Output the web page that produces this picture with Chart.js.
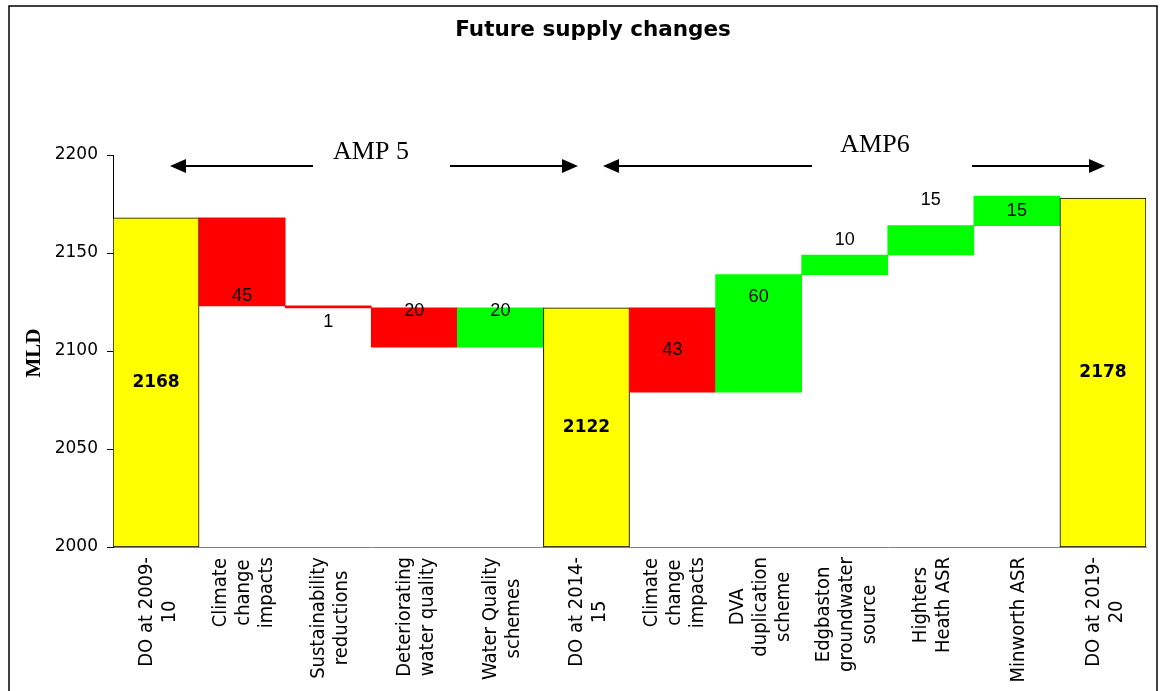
<!DOCTYPE html>
<html>
<head>
<meta charset="utf-8">
<script src="https://cdn.jsdelivr.net/npm/chart.js@4.4.0/dist/chart.umd.min.js"></script>
<style>
html, body { margin: 0; padding: 0; background: #fff; }
</style>
</head>
<body>
<canvas id="supply" width="1168" height="691"></canvas>
<script>
// categories (one array of lines per label)
const categories = [
    ["DO at 2009-", "10"],
    ["Climate", "change", "impacts"],
    ["Sustainability", "reductions"],
    ["Deteriorating", "water quality"],
    ["Water Quality", "schemes"],
    ["DO at 2014-", "15"],
    ["Climate", "change", "impacts"],
    ["DVA", "duplication", "scheme"],
    ["Edgbaston", "groundwater", "source"],
    ["Highters", "Heath ASR"],
    ["Minworth ASR"],
    ["DO at 2019-", "20"]
];

// bottom and top of each floating bar (MLD)
const lows  = [2000, 2123, 2122, 2102, 2102, 2000, 2079, 2079, 2139, 2149, 2164, 2000];
const highs = [2168, 2168, 2123, 2122, 2122, 2122, 2122, 2139, 2149, 2164, 2179, 2178];

// printed value on each bar
const valueLabels = ["2168", "45", "1", "20", "20", "2122", "43", "60", "10", "15", "15", "2178"];

const yTicks = [2000, 2050, 2100, 2150, 2200];

const barColors = ["#FFFF00", "#FF0000", "#FF0000", "#FF0000", "#00FF00", "#FFFF00",
                   "#FF0000", "#00FF00", "#00FF00", "#00FF00", "#00FF00", "#FFFF00"];
const borderWidths = [1, 0, 0, 0, 0, 1, 0, 0, 0, 0, 0, 1];

// where the value label sits: anchor on the bar + pixel shift
const labelAnchor = ["mid", "bottom", "bottom", "top", "top", "mid", "mid", "top", "top", "top", "mid", "mid"];
const labelShift  = [0, -10, 14, 3, 3, 0, 0, 22, -15, -26, 0, 0];
const labelBold   = [true, false, false, false, false, true, false, false, false, false, false, true];

function drawArrow(ctx, x1, x2, y){
    // line from x1 to x2, head at x2
    const dir = x2 > x1 ? 1 : -1;
    ctx.beginPath();
    ctx.moveTo(x1, y);
    ctx.lineTo(x2 - dir * 12, y);
    ctx.stroke();
    ctx.beginPath();
    ctx.moveTo(x2, y);
    ctx.lineTo(x2 - dir * 16, y - 7);
    ctx.lineTo(x2 - dir * 16, y + 7);
    ctx.closePath();
    ctx.fill();
}

const extrasPlugin = {
    id: 'extras',
    afterDraw(chart){
        const ctx = chart.ctx;
        const xs = chart.scales.x;
        const meta = chart.getDatasetMeta(0);
        ctx.save();

        // outer frame
        ctx.strokeStyle = '#000';
        ctx.lineWidth = 1.5;
        ctx.strokeRect(9, 6, 1148, 700);

        // title
        ctx.font = "bold 21.5px 'DejaVu Sans', sans-serif";
        ctx.fillStyle = '#000';
        ctx.textAlign = 'center';
        ctx.textBaseline = 'middle';
        ctx.fillText('Future supply changes', 593, 30);

        // y axis title
        ctx.save();
        ctx.translate(35, 353);
        ctx.rotate(-Math.PI / 2);
        ctx.font = "bold 21px 'Liberation Serif', serif";
        ctx.fillText('MLD', 0, 0);
        ctx.restore();

        // AMP periods
        ctx.font = "26px 'Liberation Serif', serif";
        ctx.fillText('AMP 5', 371, 152);
        ctx.fillText('AMP6', 875, 145);

        ctx.lineWidth = 2;
        ctx.strokeStyle = '#000';
        drawArrow(ctx, 313, 170, 166);
        drawArrow(ctx, 450, 578, 166);
        drawArrow(ctx, 812, 603, 166);
        drawArrow(ctx, 972, 1105, 166);

        // value labels
        meta.data.forEach(function(bar, i){
            const top = Math.min(bar.y, bar.base);
            const bottom = Math.max(bar.y, bar.base);
            let y;
            if (labelAnchor[i] === 'mid') y = (top + bottom) / 2;
            else if (labelAnchor[i] === 'top') y = top;
            else y = bottom;
            y += labelShift[i];
            if (labelBold[i]) {
                ctx.font = "bold 17px 'DejaVu Sans', sans-serif";
            } else {
                ctx.font = "18px 'Liberation Sans', Arial, sans-serif";
            }
            ctx.fillText(valueLabels[i], bar.x, y);
        });

        // category labels, rotated, lines centred
        ctx.font = "20px 'DejaVu Sans Condensed', 'DejaVu Sans', sans-serif";
        const lineH = 23;
        const topY = 557;
        categories.forEach(function(lines, i){
            const x = xs.getPixelForValue(i) + 2;
            let maxW = 0;
            lines.forEach(function(l){ maxW = Math.max(maxW, ctx.measureText(l).width); });
            ctx.save();
            ctx.translate(x, topY);
            ctx.rotate(-Math.PI / 2);
            lines.forEach(function(l, j){
                ctx.fillText(l, -maxW / 2, (j - (lines.length - 1) / 2) * lineH);
            });
            ctx.restore();
        });

        ctx.restore();
    }
};

const ctx = document.getElementById('supply').getContext('2d');
const supplyChart = new Chart(ctx, {
    type: 'bar',
    data: {
        labels: categories.map(c => c.join(' ')),
        datasets: [{
            data: lows.map((v, i) => [v, highs[i]]),
            backgroundColor: barColors,
            borderColor: '#000',
            borderWidth: borderWidths,
            borderSkipped: false,
            barPercentage: 1,
            categoryPercentage: 1
        }]
    },
    options: {
        responsive: false,
        animation: false,
        devicePixelRatio: 1,
        layout: { padding: { left: 0, right: 22, top: 155, bottom: 0 } },
        plugins: {
            legend: { display: false },
            tooltip: { enabled: false },
            title: { display: false }
        },
        scales: {
            x: {
                grid: { display: false },
                border: { display: true, color: '#808080', width: 1 },
                ticks: { display: false },
                afterFit: function(scale){ scale.height = 144; }
            },
            y: {
                min: 2000,
                max: 2200,
                afterBuildTicks: function(scale){ scale.ticks = yTicks.map(v => ({ value: v })); },
                ticks: {
                    color: '#000',
                    padding: 9,
                    font: { family: 'DejaVu Sans', size: 17 },
                    callback: function(v){ return String(v); }
                },
                grid: { display: true, drawOnChartArea: false, drawTicks: true, tickLength: 6, color: '#000' },
                border: { display: true, color: '#000', width: 1 },
                afterFit: function(scale){ scale.width = 113; }
            }
        }
    },
    plugins: [extrasPlugin]
});
</script>
</body>
</html>
